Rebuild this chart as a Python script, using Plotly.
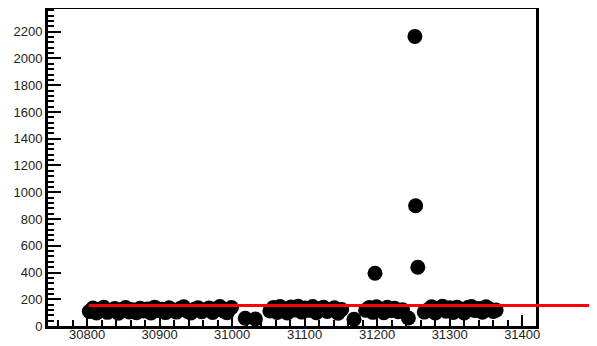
import plotly.graph_objects as go

# ---- data ----
run_band1 = [30803, 30808, 30813, 30818, 30823, 30828, 30833, 30838, 30843, 30848,
             30853, 30858, 30863, 30868, 30873, 30878, 30883, 30888, 30893, 30898,
             30903, 30908, 30913, 30918, 30923, 30928, 30933, 30938, 30943, 30948,
             30953, 30958, 30963, 30968, 30973, 30978, 30983, 30988, 30993, 30999]
val_band1 = [108, 135, 98, 127, 140, 102, 118, 131, 96, 124,
             138, 105, 121, 99, 133, 112, 128, 97, 141, 115,
             126, 100, 136, 119, 104, 130, 143, 110, 98, 125,
             137, 106, 122, 134, 101, 129, 145, 113, 99, 138]

run_band2 = [31052, 31057, 31062, 31066, 31071, 31076, 31081, 31086, 31091, 31096,
             31101, 31106, 31111, 31116, 31121, 31126, 31131, 31136, 31141, 31146, 31151]
val_band2 = [112, 139, 101, 146, 128, 97, 142, 120, 148, 104,
             135, 117, 145, 99, 131, 140, 108, 126, 137, 96, 123]

run_band3 = [31184, 31189, 31194, 31199, 31204, 31209, 31214, 31219, 31224, 31229, 31235]
val_band3 = [118, 138, 102, 144, 127, 99, 140, 115, 132, 106, 121]

run_band4 = [31265, 31270, 31275, 31280, 31285, 31290, 31295, 31300, 31305, 31310,
             31315, 31320, 31325, 31330, 31335, 31340, 31345, 31350, 31355, 31360, 31364]
val_band4 = [104, 122, 143, 98, 130, 147, 111, 136, 101, 141,
             125, 97, 138, 146, 115, 131, 103, 143, 127, 109, 119]

run_low = [31018, 31032, 31168, 31243]
val_low = [58, 52, 50, 60]

run_outlier = [31252, 31253, 31256, 31197]
val_outlier = [2165, 899, 439, 394]

fit_level = 153
fit_start = 30802

x_range = [30746, 31419]
y_range = [0, 2370]

runs = run_band1 + run_band2 + run_band3 + run_band4 + run_low + run_outlier
vals = val_band1 + val_band2 + val_band3 + val_band4 + val_low + val_outlier

fig = go.Figure()
fig.add_trace(go.Scatter(
    x=runs, y=vals, mode="markers",
    marker=dict(color="black", size=15, line=dict(width=0)),
    showlegend=False, hoverinfo="x+y",
))

x0_paper = (fit_start - x_range[0]) / (x_range[1] - x_range[0])
fig.add_shape(type="line", xref="paper", yref="y",
              x0=x0_paper, x1=1.2, y0=fit_level, y1=fit_level,
              line=dict(color="#ff0000", width=3), layer="above")

tickfont = dict(family="Liberation Sans, Arial, sans-serif", size=13, color="#222")

# page body adds an 8px offset, so the figure is sized to the remaining area
fig.update_layout(
    width=589, height=338,
    margin=dict(l=40, r=61, t=1, b=20),
    paper_bgcolor="white", plot_bgcolor="white",
    xaxis=dict(
        range=x_range, showgrid=False, zeroline=False, automargin=False,
        showline=True, linecolor="black", linewidth=3, mirror=True,
        tickmode="linear", tick0=30800, dtick=100, tickformat="d",
        ticks="inside", ticklen=11, tickwidth=2, tickcolor="black",
        minor=dict(dtick=20, ticks="inside", ticklen=6, tickwidth=2, tickcolor="black"),
        tickfont=tickfont, ticklabelstandoff=-6,
    ),
    yaxis=dict(
        range=y_range, showgrid=False, zeroline=False, automargin=False,
        showline=True, linecolor="black", linewidth=3, mirror=True,
        tickmode="linear", tick0=0, dtick=200, tickformat="d",
        ticks="inside", ticklen=13, tickwidth=2, tickcolor="black",
        minor=dict(dtick=40, ticks="inside", ticklen=6, tickwidth=2, tickcolor="black"),
        tickfont=tickfont,
    ),
)

fig.write_html("out.html")
